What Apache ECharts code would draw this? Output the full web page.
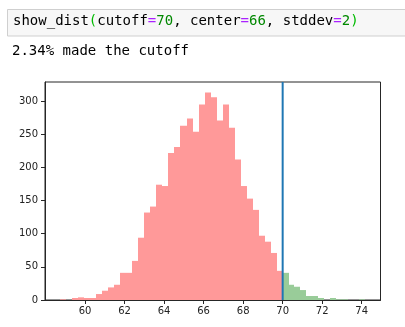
<!DOCTYPE html>
<html><head><meta charset="utf-8">
<script src="https://cdn.jsdelivr.net/npm/echarts@6/dist/echarts.min.js"></script>
<style>html,body{margin:0;padding:0;background:#fff}#c{width:405px;height:327px}</style>
</head><body><div id="c"></div>
<script>
// ---- values ----
const cutoff = 70;
const center = 66;
const stddev = 2;
const madePct = '2.34%';
const redStart = 58.75;      // left edge of first red bin
const greenEnd = 74.18;      // right edge of last green bin
const redCounts = [1,0,3,4,3,3,9,14,19,23,41,41,59,94,132,141,174,172,222,231,263,274,254,295,313,306,271,295,260,212,172,153,136,97,88,71,44];
const greenCounts = [41,23,20,15,6,6,3,0,3,1,1,0,0,1];
const xTicks = [60,62,64,66,68,70,72,74];
const yTicks = [0,50,100,150,200,250,300];
const xMin = 57.976, xMax = 74.95;
const yMin = 0, yMax = 329;

// ---- build bin data ----
const redW = (cutoff - redStart) / redCounts.length;
const redData = redCounts.map((c, i) => [redStart + i * redW, redStart + (i + 1) * redW, c]);
const greenW = (greenEnd - cutoff) / greenCounts.length;
const greenData = greenCounts.map((c, i) => [cutoff + i * greenW, cutoff + (i + 1) * greenW, c]);

function barRenderer(color) {
  return function (params, api) {
    const p0 = api.coord([api.value(0), api.value(2)]);
    const p1 = api.coord([api.value(1), 0]);
    const x0 = Math.round(p0[0]), x1 = Math.round(p1[0]);
    return {
      type: 'rect',
      shape: { x: x0, y: p0[1], width: x1 - x0, height: p1[1] - p0[1] },
      style: { fill: color }
    };
  };
}

const mono = '"DejaVu Sans Mono", "Liberation Mono", monospace';
const codeText = '{n|show_dist}{p|(}{n|cutoff}{o|=}{d|' + cutoff + '}{n|, center}{o|=}{d|' + center +
  '}{n|, stddev}{o|=}{d|' + stddev + '}{p|)}';
function rs(color) { return { fontFamily: mono, fontSize: 14, color: color, fontWeight: 'normal' }; }

const axisColor = '#262626';
const chart = echarts.init(document.getElementById('c'), null, { renderer: 'canvas' });
chart.setOption({
  animation: false,
  backgroundColor: '#fff',
  graphic: [{
    type: 'rect', z: -1,
    shape: { x: 7.5, y: 9.5, width: 410, height: 26.5 },
    style: { fill: '#f7f7f7', stroke: '#cfcfcf', lineWidth: 1 }
  }],
  title: [{
    text: codeText, left: 13, top: 14, padding: 0,
    textStyle: {
      fontWeight: 'normal', fontFamily: mono, fontSize: 14,
      rich: { n: rs('#000'), p: rs('#0b0'), o: rs('#a2f'), d: rs('#080') }
    }
  }, {
    text: madePct + ' made the cutoff', left: 12, top: 44, padding: 0,
    textStyle: { fontFamily: mono, fontSize: 14, color: '#000', fontWeight: 'normal' }
  }],
  grid: {
    left: 45, right: 24.5, top: 82, bottom: 27,
    show: true, borderColor: axisColor, borderWidth: 1, backgroundColor: 'transparent'
  },
  xAxis: {
    type: 'value', min: xMin, max: xMax,
    axisLine: { show: true, onZero: false, lineStyle: { color: axisColor, width: 1 } },
    axisTick: { show: true, customValues: xTicks, length: 4, lineStyle: { color: axisColor } },
    axisLabel: { customValues: xTicks, fontSize: 10, color: '#222', margin: 6, fontFamily: '"DejaVu Sans", sans-serif' },
    splitLine: { show: false }
  },
  yAxis: {
    type: 'value', min: yMin, max: yMax,
    axisLine: { show: true, onZero: false, lineStyle: { color: axisColor, width: 1 } },
    axisTick: { show: true, customValues: yTicks, length: 4, lineStyle: { color: axisColor } },
    axisLabel: { customValues: yTicks, fontSize: 10, color: '#222', margin: 7, fontFamily: '"DejaVu Sans", sans-serif' },
    splitLine: { show: false }
  },
  series: [{
    type: 'custom', name: 'below', data: redData, renderItem: barRenderer('#ff9999'),
    encode: { x: [0, 1], y: 2 }, silent: true, z: 2
  }, {
    type: 'custom', name: 'above', data: greenData, renderItem: barRenderer('#99cc99'),
    encode: { x: [0, 1], y: 2 }, silent: true, z: 2
  }, {
    type: 'line', name: 'cutoff', data: [[cutoff, yMin], [cutoff, yMax]],
    symbol: 'none', silent: true, z: 5,
    lineStyle: { color: '#1f77b4', width: 2 }
  }]
});
</script>
</body></html>
